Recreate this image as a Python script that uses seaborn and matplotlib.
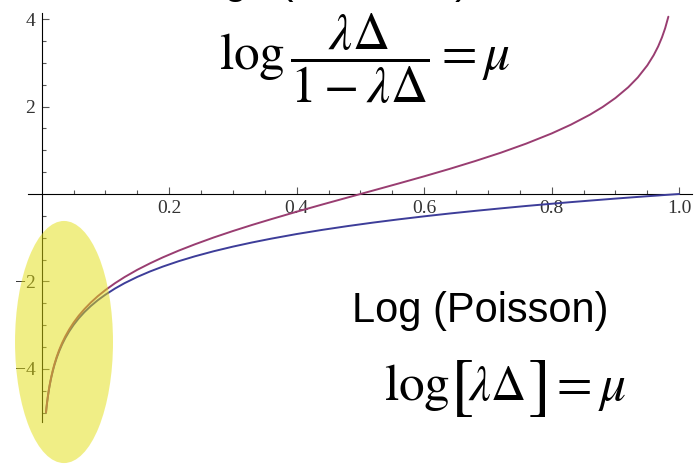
import pandas as pd
import matplotlib
matplotlib.use("Agg")
import matplotlib.pyplot as plt
import seaborn as sns
from matplotlib.patches import Ellipse
from matplotlib.ticker import FixedLocator

# λΔ values at which both links were read
lam_x = [0.0067, 0.0075, 0.0085, 0.01, 0.0115, 0.013, 0.015, 0.0175, 0.02, 0.0235,
         0.0275, 0.032, 0.037, 0.043, 0.05, 0.058, 0.067, 0.077, 0.088, 0.1,
         0.115, 0.13, 0.15, 0.17, 0.19, 0.215, 0.24, 0.27, 0.3, 0.33,
         0.36, 0.4, 0.44, 0.48, 0.52, 0.56, 0.6, 0.64, 0.68, 0.72,
         0.76, 0.8, 0.83, 0.86, 0.88, 0.9, 0.92, 0.935, 0.95, 0.96,
         0.967, 0.973, 0.978, 0.983]

# Poisson link: log(λΔ), continued up to λΔ = 1
poisson_x = lam_x + [0.99, 1.0]
poisson_y = [-5.006, -4.893, -4.768, -4.605, -4.465, -4.343, -4.200, -4.046, -3.912, -3.751,
             -3.594, -3.442, -3.297, -3.147, -2.996, -2.847, -2.703, -2.564, -2.430, -2.303,
             -2.163, -2.040, -1.897, -1.772, -1.661, -1.537, -1.427, -1.309, -1.204, -1.109,
             -1.022, -0.916, -0.821, -0.734, -0.654, -0.580, -0.511, -0.446, -0.386, -0.329,
             -0.274, -0.223, -0.186, -0.151, -0.128, -0.105, -0.083, -0.067, -0.051, -0.041,
             -0.034, -0.027, -0.022, -0.017, -0.010, 0.000]

# Bernoulli link: log(λΔ / (1 - λΔ))
bernoulli_x = lam_x
bernoulli_y = [-4.999, -4.885, -4.759, -4.595, -4.453, -4.330, -4.185, -4.028, -3.892, -3.727,
               -3.566, -3.409, -3.259, -3.103, -2.944, -2.787, -2.634, -2.484, -2.338, -2.197,
               -2.041, -1.901, -1.734, -1.586, -1.450, -1.295, -1.153, -0.994, -0.847, -0.708,
               -0.576, -0.405, -0.241, -0.080, 0.080, 0.241, 0.405, 0.575, 0.754, 0.944,
               1.153, 1.386, 1.586, 1.815, 1.992, 2.197, 2.442, 2.666, 2.944, 3.178,
               3.377, 3.585, 3.795, 4.057]

x_ticks = [0.2, 0.4, 0.6, 0.8, 1.0]
x_tick_labels = ["0.2", "0.4", "0.6", "0.8", "1.0"]
y_ticks = [-4, -2, 2, 4]
y_tick_labels = ["\u22124", "\u22122", "2", "4"]

sns.set_theme(style="white")
plt.rcParams["font.family"] = ["Liberation Serif", "DejaVu Serif"]
plt.rcParams["mathtext.fontset"] = "stix"
plt.rcParams["text.color"] = "black"

W, H = 700, 465
fig = plt.figure(figsize=(W / 100, H / 100), dpi=100)
fig.patch.set_facecolor("white")
ax = fig.add_axes([0, 0, 1, 1])
ax.set_facecolor("white")

df = pd.concat([
    pd.DataFrame({"x": poisson_x, "y": poisson_y, "link": "Poisson"}),
    pd.DataFrame({"x": bernoulli_x, "y": bernoulli_y, "link": "Bernoulli"}),
], ignore_index=True)

sns.lineplot(data=df, x="x", y="y", hue="link",
             palette={"Poisson": "#3d3d99", "Bernoulli": "#993d71"},
             estimator=None, sort=False, legend=False, linewidth=1.4, ax=ax)

# axes crossing at the origin
x0_px, x_scale = 41.7, 637.5
y0_px, y_scale = 194.0, 43.7
ax.set_xlim(-x0_px / x_scale, (W - x0_px) / x_scale)
ax.set_ylim(-(H - y0_px) / y_scale, y0_px / y_scale)
ax.set_xlabel("")
ax.set_ylabel("")

for side in ("top", "right"):
    ax.spines[side].set_visible(False)
for side in ("left", "bottom"):
    ax.spines[side].set_position(("data", 0))
    ax.spines[side].set_color("black")
    ax.spines[side].set_linewidth(0.8)
    ax.spines[side].set_zorder(1)
ax.spines["left"].set_bounds(-5.21, 4.14)
ax.spines["bottom"].set_bounds(-0.022, 1.02)

ax.xaxis.set_major_locator(FixedLocator(x_ticks))
ax.set_xticklabels(x_tick_labels)
ax.yaxis.set_major_locator(FixedLocator(y_ticks))
ax.set_yticklabels(y_tick_labels)
ax.xaxis.set_minor_locator(FixedLocator([v / 20 for v in range(1, 21) if v % 4]))
ax.yaxis.set_minor_locator(FixedLocator([v / 2 for v in range(-10, 9) if v % 4 and v != 0]))

ax.tick_params(which="both", direction="in", bottom=True, left=True,
               color="#555555", width=0.8, labelsize=14, labelcolor="#333333")
ax.tick_params(which="major", length=4.8)
ax.tick_params(which="minor", length=2.7)
ax.tick_params(axis="x", which="major", pad=4)
ax.tick_params(axis="y", which="major", pad=4.5)
ax.grid(False)

# highlight around the region where both links agree
ax.add_patch(Ellipse((0.035, -3.387), width=0.1537, height=5.54,
                     facecolor=(0.89, 0.87, 0.06), alpha=0.5,
                     edgecolor="none", zorder=5))

def px_text(x, y, s, **kw):
    """Place a text at figure pixel coordinates measured from the top-left."""
    kw.setdefault("color", "black")
    return fig.text(x / W, 1 - y / H, s, **kw)

sans = ["Liberation Sans", "DejaVu Sans"]
px_text(178, -6.5, "Logit (Bernoulli)", family=sans, fontsize=30, ha="left", va="baseline")
px_text(352, 321.7, "Log (Poisson)", family=sans, fontsize=30, ha="left", va="baseline")
px_text(365, 59, r"$\log\dfrac{\lambda\Delta}{1-\lambda\Delta}=\mu$",
        fontsize=37, ha="center", va="center")

# log[λΔ] = μ, with tall brackets
base = 400
px_text(384, base, r"$\log$", fontsize=37, ha="left", va="baseline")
px_text(450, 406, r"$[$", fontsize=50, ha="left", va="baseline")
px_text(468, base, r"$\lambda\Delta$", fontsize=35, ha="left", va="baseline")
px_text(527, 406, r"$]$", fontsize=50, ha="left", va="baseline")
px_text(549, base, r"$=\mu$", fontsize=37, ha="left", va="baseline")

fig.savefig("out.png", dpi=100, facecolor="white")
